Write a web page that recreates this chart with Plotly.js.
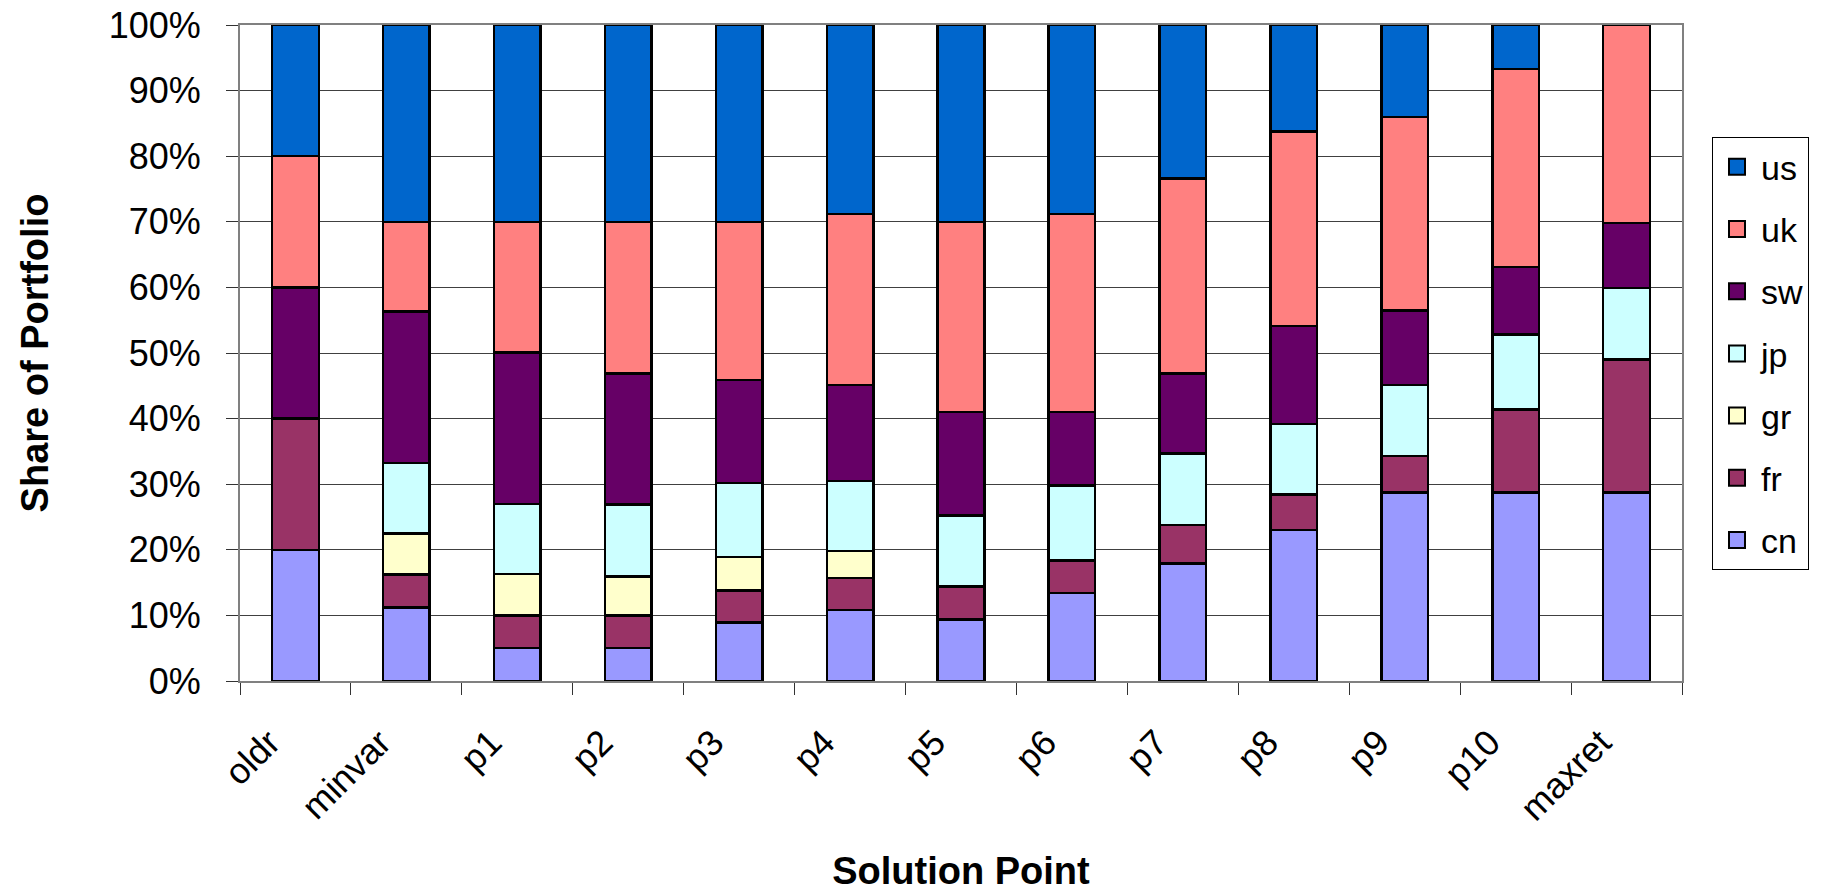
<!DOCTYPE html>
<html>
<head>
<meta charset="utf-8">
<script src="https://cdn.plot.ly/plotly-3.0.1.min.js"></script>
<style>
  html, body { margin: 0; padding: 0; background: #ffffff; }
  #chart { width: 1821px; height: 892px; }
</style>
</head>
<body>
<div id="chart"></div>
<script>
// Solution points along the frontier
const points = ["oldr", "minvar", "p1", "p2", "p3", "p4", "p5", "p6", "p7", "p8", "p9", "p10", "maxret"];

// Portfolio share (%) held in each market at each solution point
const cn = [20.0, 11.2, 5.0, 5.0, 8.9, 10.8, 9.4, 13.4, 17.9, 23.0, 28.7, 28.7, 28.7];
const fr = [20.0, 5.0, 5.0, 5.0, 4.9, 4.9, 5.0, 5.0, 5.9, 5.4, 5.6, 12.7, 20.3];
const gr = [0.0, 6.3, 6.3, 5.9, 5.1, 4.1, 0.0, 0.0, 0.0, 0.0, 0.0, 0.0, 0.0];
const jp = [0.0, 10.7, 10.7, 11.0, 11.3, 10.7, 10.8, 11.4, 10.9, 10.8, 10.8, 11.4, 10.9];
const sw = [20.0, 23.1, 23.1, 20.0, 15.7, 14.6, 15.8, 11.2, 12.2, 14.9, 11.4, 10.3, 9.9];
const uk = [20.0, 13.7, 19.9, 23.1, 24.1, 26.1, 29.0, 30.2, 29.7, 29.7, 29.5, 30.2, 30.2];
const us = [20.0, 30.0, 30.0, 30.0, 30.0, 28.8, 30.0, 28.8, 23.4, 16.2, 14.0, 6.7, 0.0];

const seriesNames = ["cn", "fr", "gr", "jp", "sw", "uk", "us"];
const seriesValues = [cn, fr, gr, jp, sw, uk, us];
const seriesColors = ["#9999FF", "#993366", "#FFFFCC", "#CCFFFF", "#660066", "#FF8080", "#0066CC"];

const FONT = "Liberation Sans, Arial, Helvetica, sans-serif";
const OUTLINE = { color: "#000000", width: 2.5 };

// Stacked bars, bottom to top in series order
const barTraces = seriesNames.map((name, i) => ({
  type: "bar",
  name: name,
  x: points,
  y: seriesValues[i],
  legendgroup: name,
  showlegend: false,
  marker: { color: seriesColors[i], line: OUTLINE },
  hoverinfo: "skip"
}));

// Legend keys: larger square swatches, top entry is the top of the stack
const keyTraces = seriesNames.map((name, i) => ({
  type: "scatter",
  mode: "markers",
  name: name,
  x: [null],
  y: [null],
  legendgroup: name,
  legendrank: seriesNames.length - i,
  marker: { symbol: "square", size: 16, color: seriesColors[i], line: { color: "#000000", width: 2 } },
  hoverinfo: "skip"
}));

const layout = {
  width: 1821,
  height: 892,
  paper_bgcolor: "#ffffff",
  plot_bgcolor: "#ffffff",
  barmode: "stack",
  bargap: 0.58,
  margin: { l: 240, r: 139, t: 25, b: 211, autoexpand: false },
  font: { family: FONT, size: 36, color: "#000000" },
  showlegend: true,
  legend: {
    x: 1.0208,
    xanchor: "left",
    y: 0.829,
    yanchor: "top",
    bgcolor: "#ffffff",
    bordercolor: "#000000",
    borderwidth: 1,
    traceorder: "grouped",
    tracegroupgap: 15,
    itemwidth: 38,
    itemsizing: "trace",
    font: { family: FONT, size: 34, color: "#000000" }
  },
  xaxis: {
    type: "category",
    tickangle: -45,
    tickson: "boundaries",
    ticks: "outside",
    ticklen: 12,
    tickwidth: 1,
    tickcolor: "#333333",
    ticklabelstandoff: 24,
    ticklabelshift: -26,
    showline: true,
    linecolor: "#808080",
    linewidth: 2,
    mirror: true,
    showgrid: false,
    tickfont: { family: FONT, size: 36, color: "#000000" },
    title: {
      text: "Solution Point",
      font: { family: FONT, size: 38, color: "#000000", weight: "bold" },
      standoff: 56
    }
  },
  yaxis: {
    range: [0, 100],
    dtick: 10,
    ticksuffix: "%",
    ticks: "outside",
    ticklen: 12,
    tickwidth: 1,
    tickcolor: "#333333",
    ticklabelstandoff: 18,
    showline: true,
    linecolor: "#808080",
    linewidth: 2,
    mirror: true,
    showgrid: true,
    gridcolor: "#404040",
    gridwidth: 1,
    zeroline: false,
    tickfont: { family: FONT, size: 36, color: "#000000" },
    title: {
      text: "Share of Portfolio",
      font: { family: FONT, size: 38, color: "#000000", weight: "bold" },
      standoff: 48
    }
  }
};

Plotly.newPlot("chart", barTraces.concat(keyTraces), layout, { displayModeBar: false, staticPlot: true });
</script>
</body>
</html>
